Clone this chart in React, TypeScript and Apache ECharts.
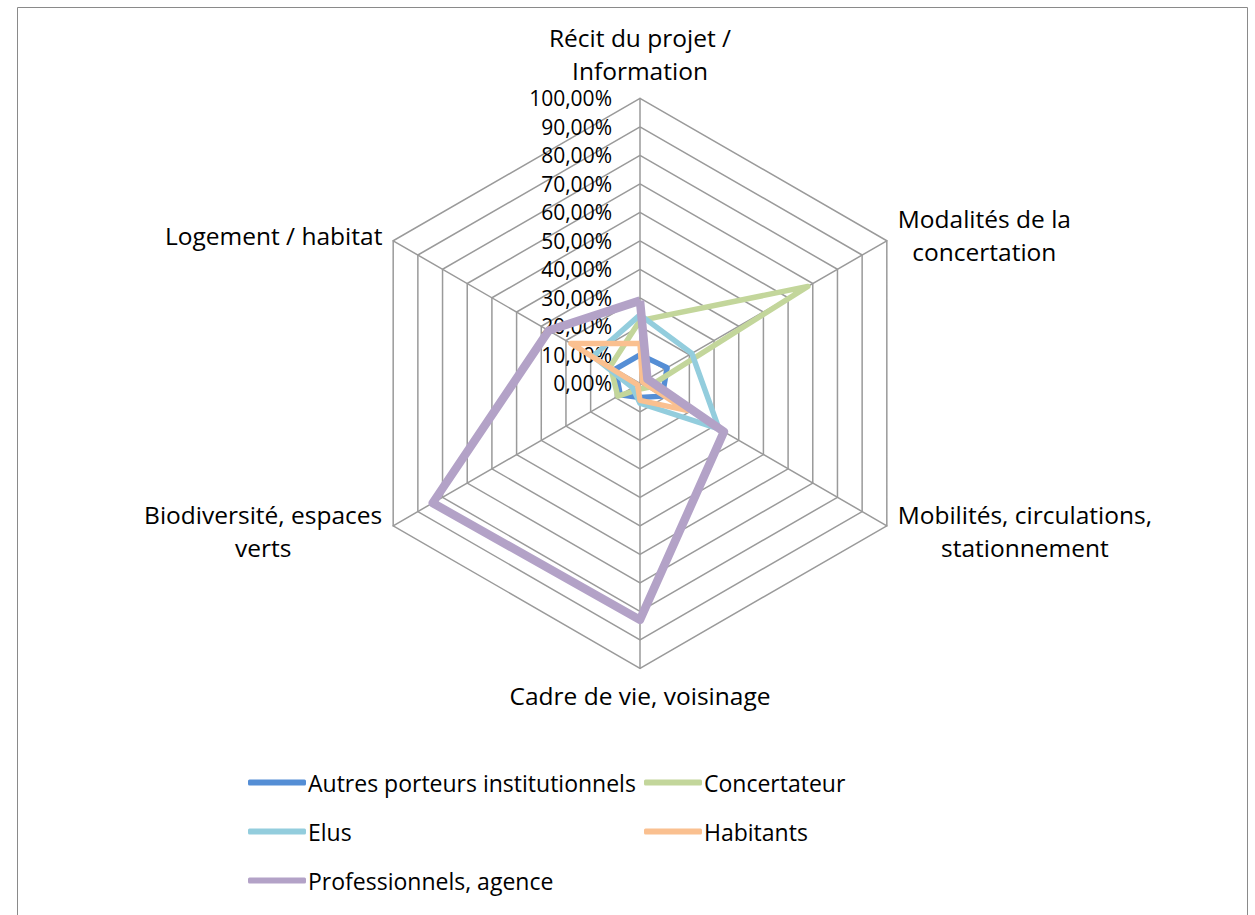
import React, { useEffect, useRef } from 'react';
import * as echarts from 'echarts';

// Indicators in ECharts order (counter-clockwise from the top)
const categories = [
  'Récit du projet /\nInformation',
  'Logement / habitat',
  'Biodiversité, espaces\nverts',
  'Cadre de vie, voisinage',
  'Mobilités, circulations,\nstationnement',
  'Modalités de la\nconcertation',
];

const seriesNames = [
  'Autres porteurs institutionnels',
  'Concertateur',
  'Elus',
  'Habitants',
  'Professionnels, agence',
];

// values in %, same order as categories
const autres = [10, 10, 8, 5, 9, 11];
const concertateur = [22, 12, 9, 2, 3, 68];
const elus = [24, 19, 3, 7, 32, 21];
const habitants = [14, 28, 1, 6, 19, 1];
const professionnels = [29, 37, 84, 83, 34, 3];

const seriesValues = [autres, concertateur, elus, habitants, professionnels];
const colors = ['#558ED5', '#C3D69B', '#93CDDD', '#FAC090', '#B3A2C7'];
const lineWidths = [5.5, 5.5, 5.5, 5.5, 8.5];

// legend grid: column / row of each series
const legendCol = [0, 1, 0, 1, 0];
const legendRow = [0, 0, 1, 1, 2];

const FONT = 'Open Sans';

function measure(text: string, size: number): number {
  const c = document.createElement('canvas');
  const ctx = c.getContext('2d');
  if (!ctx) return text.length * size * 0.55;
  ctx.font = `${size}px "${FONT}"`;
  return ctx.measureText(text).width;
}

// font size so that a sample string takes the width it has in the reference
function fitSize(sample: string, targetWidth: number): number {
  const w = measure(sample, 100);
  return Math.round(((100 * targetWidth) / w) * 2) / 2;
}

export default function App() {
  const ref = useRef<HTMLDivElement>(null);

  useEffect(() => {
    if (!ref.current) return;
    const chart = echarts.init(ref.current, null, { renderer: 'svg' });

    const nameSize = fitSize('Cadre de vie, voisinage', 261);
    const tickSize = 21;
    const legendSize = fitSize('Autres porteurs institutionnels', 328);

    const rich: Record<string, any> = {};
    categories.forEach((c, i) => {
      const w = Math.max(...c.split('\n').map((l) => measure(l, nameSize)));
      rich['n' + i] = {
        width: Math.ceil(w) + 2,
        align: 'center',
        fontSize: nameSize,
        fontFamily: FONT,
        color: '#000',
        lineHeight: 33,
      };
    });

    const legends = seriesNames.map((n, i) => ({
      orient: 'horizontal',
      left: legendCol[i] === 0 ? 248 : 644,
      top: 771 + legendRow[i] * 49,
      itemWidth: 58,
      itemHeight: 6,
      itemGap: 0,
      icon: 'roundRect',
      padding: 0,
      selectedMode: false,
      data: [n],
      textStyle: { fontSize: legendSize, fontFamily: FONT, color: '#000', padding: [0, 0, 0, -3] },
    }));

    const option: any = {
      animation: false,
      color: colors,
      backgroundColor: '#fff',
      graphic: [
        {
          type: 'rect',
          shape: { x: 17.5, y: 7.5, width: 1230, height: 940 },
          style: { fill: 'none', stroke: '#8a8a8a', lineWidth: 1 },
          silent: true,
        },
      ],
      legend: legends,
      radar: {
        center: [640, 383.3],
        radius: 285,
        startAngle: 90,
        shape: 'polygon',
        splitNumber: 10,
        nameGap: 11,
        axisName: {
          color: '#000',
          fontSize: nameSize,
          fontFamily: FONT,
          formatter: (name: string) => {
            const i = categories.indexOf(name);
            return name
              .split('\n')
              .map((l) => `{n${i}|${l}}`)
              .join('\n');
          },
          rich,
        },
        indicator: categories.map((c, i) => ({
          name: c,
          min: 0,
          max: 100,
          ...(i === 0
            ? {
                axisLabel: {
                  show: true,
                  margin: 28,
                  color: '#000',
                  fontSize: tickSize,
                  lineHeight: 24,
                  fontFamily: FONT,
                  showMinLabel: true,
                  showMaxLabel: true,
                  formatter: (v: number) => v.toFixed(2).replace('.', ',') + '%',
                },
              }
            : {}),
        })),
        axisLabel: { show: false },
        axisLine: { lineStyle: { color: '#9a9a9a', width: 1.5 } },
        axisTick: { show: false },
        splitLine: { lineStyle: { color: '#9a9a9a', width: 1.5 } },
        splitArea: { show: false },
      },
      series: [
        {
          type: 'radar',
          symbol: 'none',
          data: seriesNames.map((n, i) => ({
            name: n,
            value: seriesValues[i],
            lineStyle: { color: colors[i], width: lineWidths[i] },
            itemStyle: { color: colors[i] },
          })),
        },
      ],
    };

    chart.setOption(option);
    return () => chart.dispose();
  }, []);

  return (
    <div
      ref={ref}
      style={{ position: 'fixed', left: 0, top: 0, width: 1255, height: 915, background: '#fff' }}
    />
  );
}
